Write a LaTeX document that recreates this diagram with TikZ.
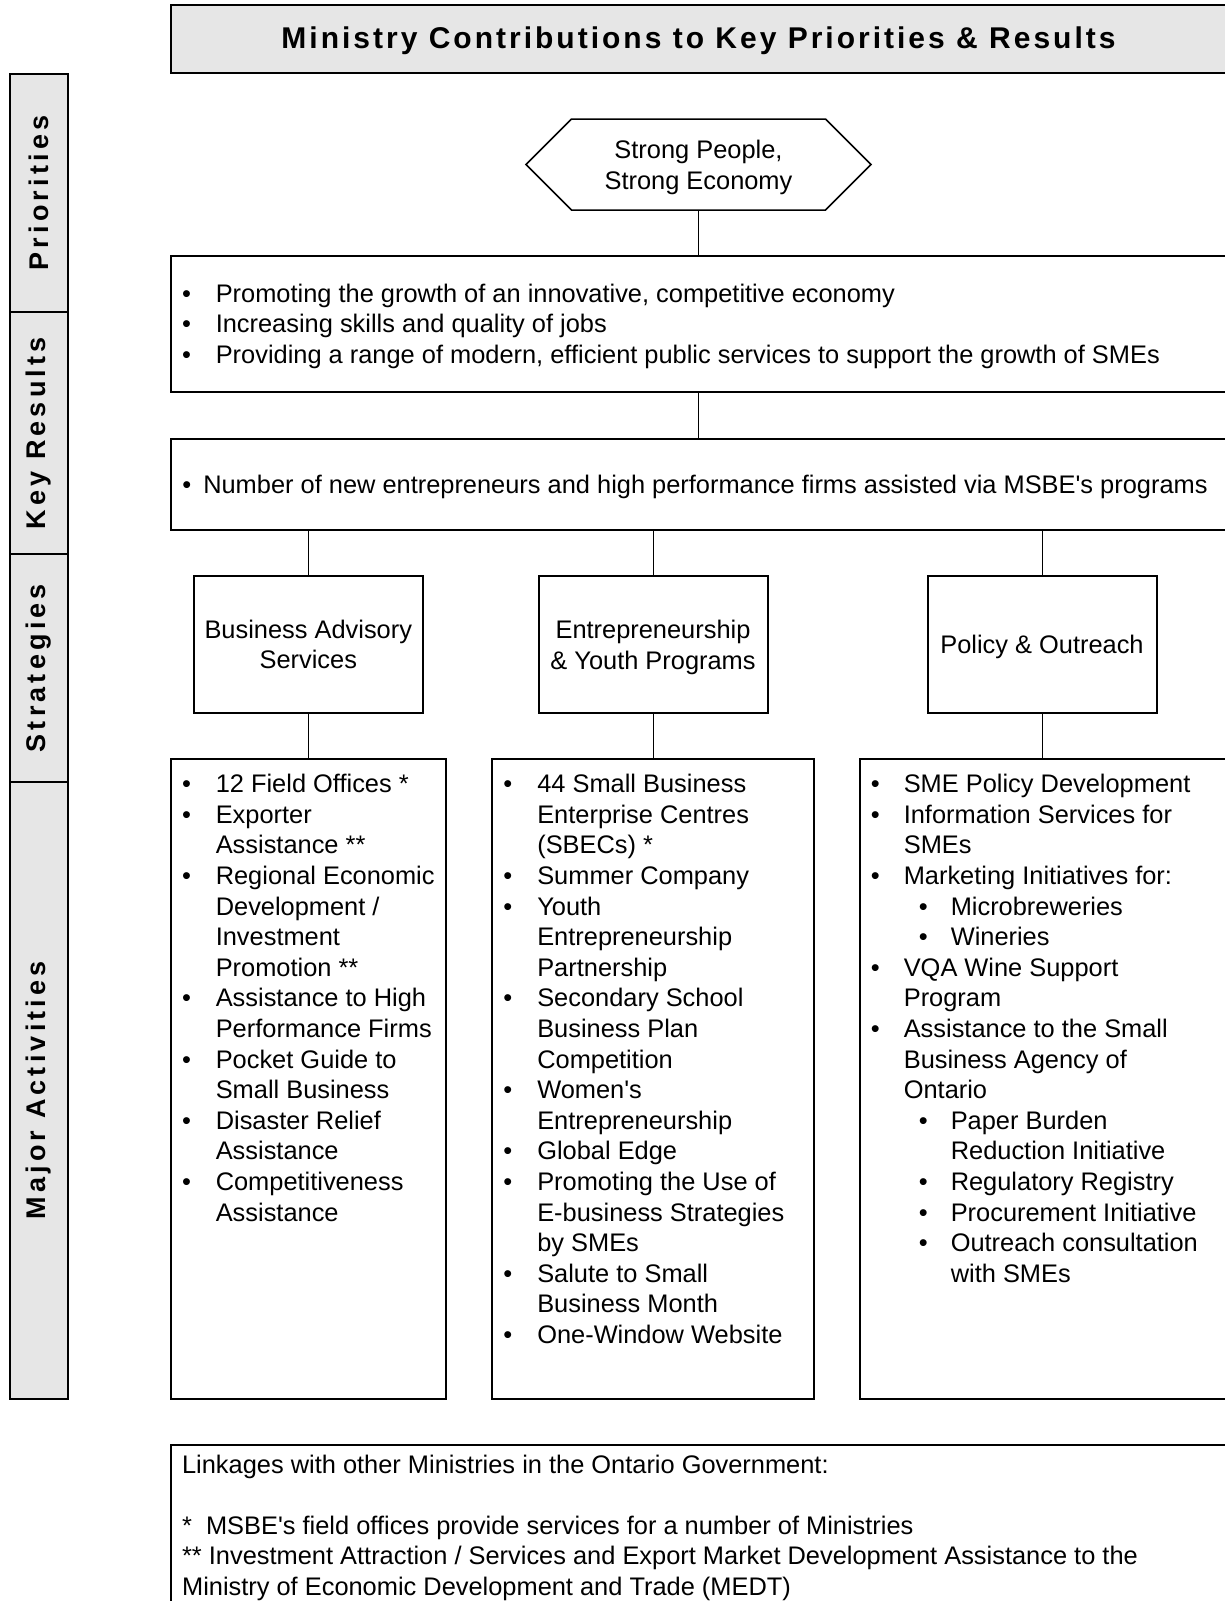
\documentclass[tikz,border=0pt]{standalone}
\usepackage{fontspec}
\setmainfont{Liberation Sans}
\newfontfamily\titlefont[LetterSpace=10]{Liberation Sans}
\newfontfamily\sidefont[LetterSpace=15.5]{Liberation Sans}
\usetikzlibrary{shapes.symbols}
\definecolor{panelgray}{RGB}{230,230,230}
\newcommand{\bul}{\textbullet}
\newcommand{\subbul}{\makebox[23.5pt][l]{\hspace{7.5pt}\textbullet}}
\newcommand{\apos}{\textquotesingle}

\begin{document}
\begin{tikzpicture}[x=0.5pt, y=-0.5pt,
  every node/.style={font=\fontsize{12.7}{15.3}\selectfont},
  box/.style={draw, line width=1pt, inner sep=0pt},
  link/.style={line width=0.5pt},
  list/.style={anchor=base west, inner sep=0pt, align=left},
  sidelabel/.style={rotate=90, font=\sidefont\bfseries\fontsize{13.5}{16}\selectfont}]
  \useasboundingbox (0,0) rectangle (1225,1601);
  \clip (0,0) rectangle (1225,1601);

  % side bar
  \foreach \nm/\ya/\yb/\lbl in {pri/73.5/312.4/Priorities, res/312.4/554.3/Key Results,
      str/554.3/782/Strategies, act/782/1398.5/Major Activities} {
    \draw[line width=1pt, fill=panelgray] (10,\ya) rectangle (68,\yb);
    \node[sidelabel] (side-\nm) at (39,{(\ya+\yb)/2}) {\lbl};
  }

  % title
  \node[box, fill=panelgray, minimum width=528pt, minimum height=34pt] (title) at (698.5,38.5) {};
  \node[font=\titlefont\bfseries\fontsize{15}{18}\selectfont] (title-text) at (698.5,40.5)
        {Ministry Contributions to Key Priorities \& Results};

  % priorities
  \node[box, line width=0.75pt, shape=signal, signal to=east and west, signal pointer angle=90,
        minimum width=172.5pt, minimum height=45.5pt] (goal) at (698.5,164.5) {};
  \node[align=center] (goal-text) at (698.5,167.5) {Strong People,\\[0.5pt]Strong Economy};
  \node[box, minimum width=528pt, minimum height=68pt] (prio) at (698.5,324) {};
  \node[list] (prio-text) at (181.6,302) {\begin{tabular}[t]{@{}p{16.9pt}@{}l@{}}
    \bul & Promoting the growth of an innovative, competitive economy\\
    \bul & Increasing skills and quality of jobs\\
    \bul & Providing a range of modern, efficient public services to support the growth of SMEs
  \end{tabular}};

  % key results
  \node[box, minimum width=528pt, minimum height=45.5pt] (kr) at (698.5,484.5) {};
  \node[list] (kr-text) at (182,493)
    {\bul\hspace{6pt}Number of new entrepreneurs and high performance firms assisted via MSBE\apos s programs};

  % strategies
  \foreach \nm/\x/\dy/\lbl in {bas/308.3/0/{Business Advisory\\Services},
      eyp/653/3/{Entrepreneurship\\\& Youth Programs}, pol/1042/3/{Policy \& Outreach}} {
    \node[box, minimum width=114.5pt, minimum height=68.25pt] (\nm) at (\x,644.25) {};
    \node[align=center] (\nm-text) at (\x,644.25+\dy) {\lbl};
  }

  % major activities
  \node[box, minimum width=137.75pt, minimum height=320pt] (act1) at (308.25,1078.5) {};
  \node[box, minimum width=160.8pt, minimum height=320pt] (act2) at (652.8,1078.5) {};
  \node[box, minimum width=183.75pt, minimum height=320pt] (act3) at (1043.25,1078.5) {};

  \node[list] (act1-text) at (181.6,792.7) {\begin{tabular}[t]{@{}p{16.9pt}@{}l@{}}
    \bul & 12 Field Offices *\\
    \bul & Exporter\\
         & Assistance **\\
    \bul & Regional Economic\\
         & Development /\\
         & Investment\\
         & Promotion **\\
    \bul & Assistance to High\\
         & Performance Firms\\
    \bul & Pocket Guide to\\
         & Small Business\\
    \bul & Disaster Relief\\
         & Assistance\\
    \bul & Competitiveness\\
         & Assistance
  \end{tabular}};

  \node[list] (act2-text) at (502.9,792.7) {\begin{tabular}[t]{@{}p{17pt}@{}l@{}}
    \bul & 44 Small Business\\
         & Enterprise Centres\\
         & (SBECs) *\\
    \bul & Summer Company\\
    \bul & Youth\\
         & Entrepreneurship\\
         & Partnership\\
    \bul & Secondary School\\
         & Business Plan\\
         & Competition\\
    \bul & Women\apos s\\
         & Entrepreneurship\\
    \bul & Global Edge\\
    \bul & Promoting the Use of\\
         & E-business Strategies\\
         & by SMEs\\
    \bul & Salute to Small\\
         & Business Month\\
    \bul & One-Window Website
  \end{tabular}};

  \node[list] (act3-text) at (870.4,792.7) {\begin{tabular}[t]{@{}p{16.5pt}@{}l@{}}
    \bul & SME Policy Development\\
    \bul & Information Services for\\
         & SMEs\\
    \bul & Marketing Initiatives for:\\
         & \subbul Microbreweries\\
         & \subbul Wineries\\
    \bul & VQA Wine Support\\
         & Program\\
    \bul & Assistance to the Small\\
         & Business Agency of\\
         & Ontario\\
         & \subbul Paper Burden\\
         & \hspace{23.5pt}Reduction Initiative\\
         & \subbul Regulatory Registry\\
         & \subbul Procurement Initiative\\
         & \subbul Outreach consultation\\
         & \hspace{23.5pt}with SMEs
  \end{tabular}};

  % connectors
  \draw[link] (goal.south) -- (goal.south |- prio.north);
  \draw[link] (prio.south) -- (kr.north);
  \foreach \nm/\ac in {bas/act1, eyp/act2, pol/act3} {
    \draw[link] (\nm.north) -- (\nm.north |- kr.south);
    \draw[link] (\nm.south) -- (\nm.south |- \ac.north);
  }

  % linkages
  \node[box, minimum width=528pt, minimum height=87.75pt] (links) at (698.5,1532.25) {};
  \node[list] (links-text) at (181.7,1473) {\begin{tabular}[t]{@{}l@{}}
    Linkages with other Ministries in the Ontario Government:\\
    \relax\\
    \relax *\ \ MSBE\apos s field offices provide services for a number of Ministries\\
    \relax ** Investment Attraction / Services and Export Market Development Assistance to the\\
    \relax Ministry of Economic Development and Trade (MEDT)
  \end{tabular}};
\end{tikzpicture}
\end{document}
